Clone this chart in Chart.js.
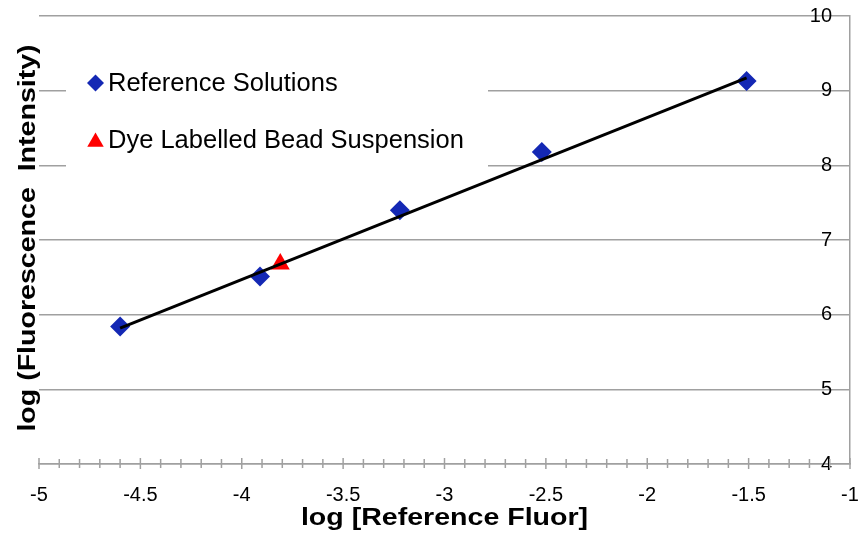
<!DOCTYPE html>
<html>
<head>
<meta charset="utf-8">
<script src="https://cdn.jsdelivr.net/npm/chart.js@4"></script>
<style>
  body { margin: 0; background: #fff; }
  canvas { display: block; }
</style>
</head>
<body>
<canvas id="myChart" width="863" height="535"></canvas>
<script>
// values
let refX = [-4.6, -3.91, -3.22, -2.52, -1.51];
let refY = [5.84, 6.51, 7.40, 8.18, 9.13];
let dyeX = [-3.81];
let dyeY = [6.68];
let trendX = [-4.6, -1.51];
let trendY = [5.82, 9.17];

let xMin = -5, xMax = -1;
let yMin = 4, yMax = 10;

let tituloX = 'log [Reference Fluor]';
let tituloY = 'log (Fluorescence  Intensity)';

const FONT = '"Liberation Sans", Arial, sans-serif';
const GRID = '#a0a0a0';

function puntos(xs, ys) {
  return xs.map((x, i) => ({ x: x, y: ys[i] }));
}

// ticks crossing the x axis (major every 0.5, minor every 0.1)
const marcasX = {
  id: 'marcasX',
  afterDraw(chart) {
    const sx = chart.scales.x;
    const ctx = chart.ctx;
    const y0 = chart.chartArea.bottom;
    ctx.save();
    ctx.strokeStyle = GRID;
    ctx.lineWidth = 1.5;
    sx.ticks.forEach(t => {
      const px = sx.getPixelForValue(t.value);
      const mayor = Math.abs(t.value * 2 - Math.round(t.value * 2)) < 1e-6;
      const arriba = mayor ? 6 : 5;
      const abajo = mayor ? 5 : 4;
      ctx.beginPath();
      ctx.moveTo(px, y0 - arriba);
      ctx.lineTo(px, y0 + abajo);
      ctx.stroke();
    });
    ctx.restore();
  }
};

// axis titles, a bit wider than the font like in the original
const titulos = {
  id: 'titulos',
  afterDraw(chart) {
    const ctx = chart.ctx;
    const a = chart.chartArea;
    ctx.save();
    ctx.fillStyle = '#000';
    ctx.font = 'bold 24px ' + FONT;
    ctx.textAlign = 'center';
    ctx.textBaseline = 'middle';
    ctx.save();
    ctx.translate((a.left + a.right) / 2, 518);
    ctx.scale(1.19, 1);
    ctx.fillText(tituloX, 0, 0);
    ctx.restore();
    ctx.save();
    ctx.translate(28, 238);
    ctx.rotate(-Math.PI / 2);
    ctx.scale(1.19, 1);
    ctx.fillText(tituloY, 0, 0);
    ctx.restore();
    ctx.restore();
  }
};

// legend inside the plot, white box over the grid
const leyenda = {
  id: 'leyenda',
  afterDatasetsDraw(chart) {
    const ctx = chart.ctx;
    ctx.save();
    ctx.fillStyle = '#fff';
    ctx.fillRect(66, 50, 422, 122);
    let fila = 0;
    chart.data.datasets.forEach(ds => {
      if (!ds.label) return;
      const y = 83 + fila * 57;
      ctx.fillStyle = ds.backgroundColor;
      Chart.helpers.drawPoint(ctx, {
        pointStyle: ds.pointStyle,
        radius: ds.pointStyle === 'triangle' ? 9.5 : 8.5,
        rotation: 0,
        borderWidth: 0
      }, 95.5, ds.pointStyle === 'triangle' ? y + 2 : y);
      ctx.fillStyle = '#000';
      ctx.font = '25.5px ' + FONT;
      ctx.textBaseline = 'middle';
      ctx.textAlign = 'left';
      ctx.fillText(ds.label, 108, y + 1);
      fila++;
    });
    ctx.restore();
  }
};

const ctx = document.getElementById('myChart');

new Chart(ctx, {
  type: 'scatter',
  data: {
    datasets: [{
      label: '',
      data: puntos(trendX, trendY),
      showLine: true,
      borderColor: '#000',
      borderWidth: 3,
      pointRadius: 0,
      order: 0
    }, {
      label: 'Reference Solutions',
      data: puntos(refX, refY),
      pointStyle: 'rectRot',
      pointRadius: 10,
      backgroundColor: '#1428b4',
      borderWidth: 0,
      order: 1
    }, {
      label: 'Dye Labelled Bead Suspension',
      data: puntos(dyeX, dyeY),
      pointStyle: 'triangle',
      pointRadius: 11,
      backgroundColor: '#ff0000',
      borderWidth: 0,
      order: 2
    }]
  },
  options: {
    responsive: false,
    animation: false,
    layout: { padding: { top: 16, left: 0, right: 0, bottom: 0 } },
    plugins: {
      legend: { display: false },
      tooltip: { enabled: false }
    },
    scales: {
      x: {
        type: 'linear',
        min: xMin,
        max: xMax,
        position: 'bottom',
        afterFit(s) { s.height = 71; s.paddingLeft = 0; s.paddingRight = 0; },
        grid: { display: false, drawTicks: false },
        border: { display: true, color: GRID, width: 1.5 },
        ticks: {
          stepSize: 0.1,
          autoSkip: false,
          maxRotation: 0,
          minRotation: 0,
          padding: 19,
          color: '#000',
          font: { family: FONT, size: 20 },
          callback: v => Math.abs(v * 2 - Math.round(v * 2)) < 1e-6 ? String(Math.round(v * 10) / 10) : ''
        }
      },
      y: {
        type: 'linear',
        min: yMin,
        max: yMax,
        position: 'right',
        afterFit(s) { s.width = 13; s.paddingTop = 0; s.paddingBottom = 0; },
        grid: { color: GRID, lineWidth: 1.5, drawTicks: false },
        border: { display: true, color: GRID, width: 1.5 },
        ticks: {
          stepSize: 1,
          mirror: true,
          padding: -18,
          color: '#000',
          font: { family: FONT, size: 20 }
        }
      },
      yTitulo: {
        type: 'linear',
        min: yMin,
        max: yMax,
        position: 'left',
        afterFit(s) { s.width = 39; s.paddingTop = 0; s.paddingBottom = 0; },
        grid: { display: false, drawTicks: false },
        border: { display: false },
        ticks: { display: false }
      }
    }
  },
  plugins: [marcasX, leyenda, titulos]
});
</script>
</body>
</html>
